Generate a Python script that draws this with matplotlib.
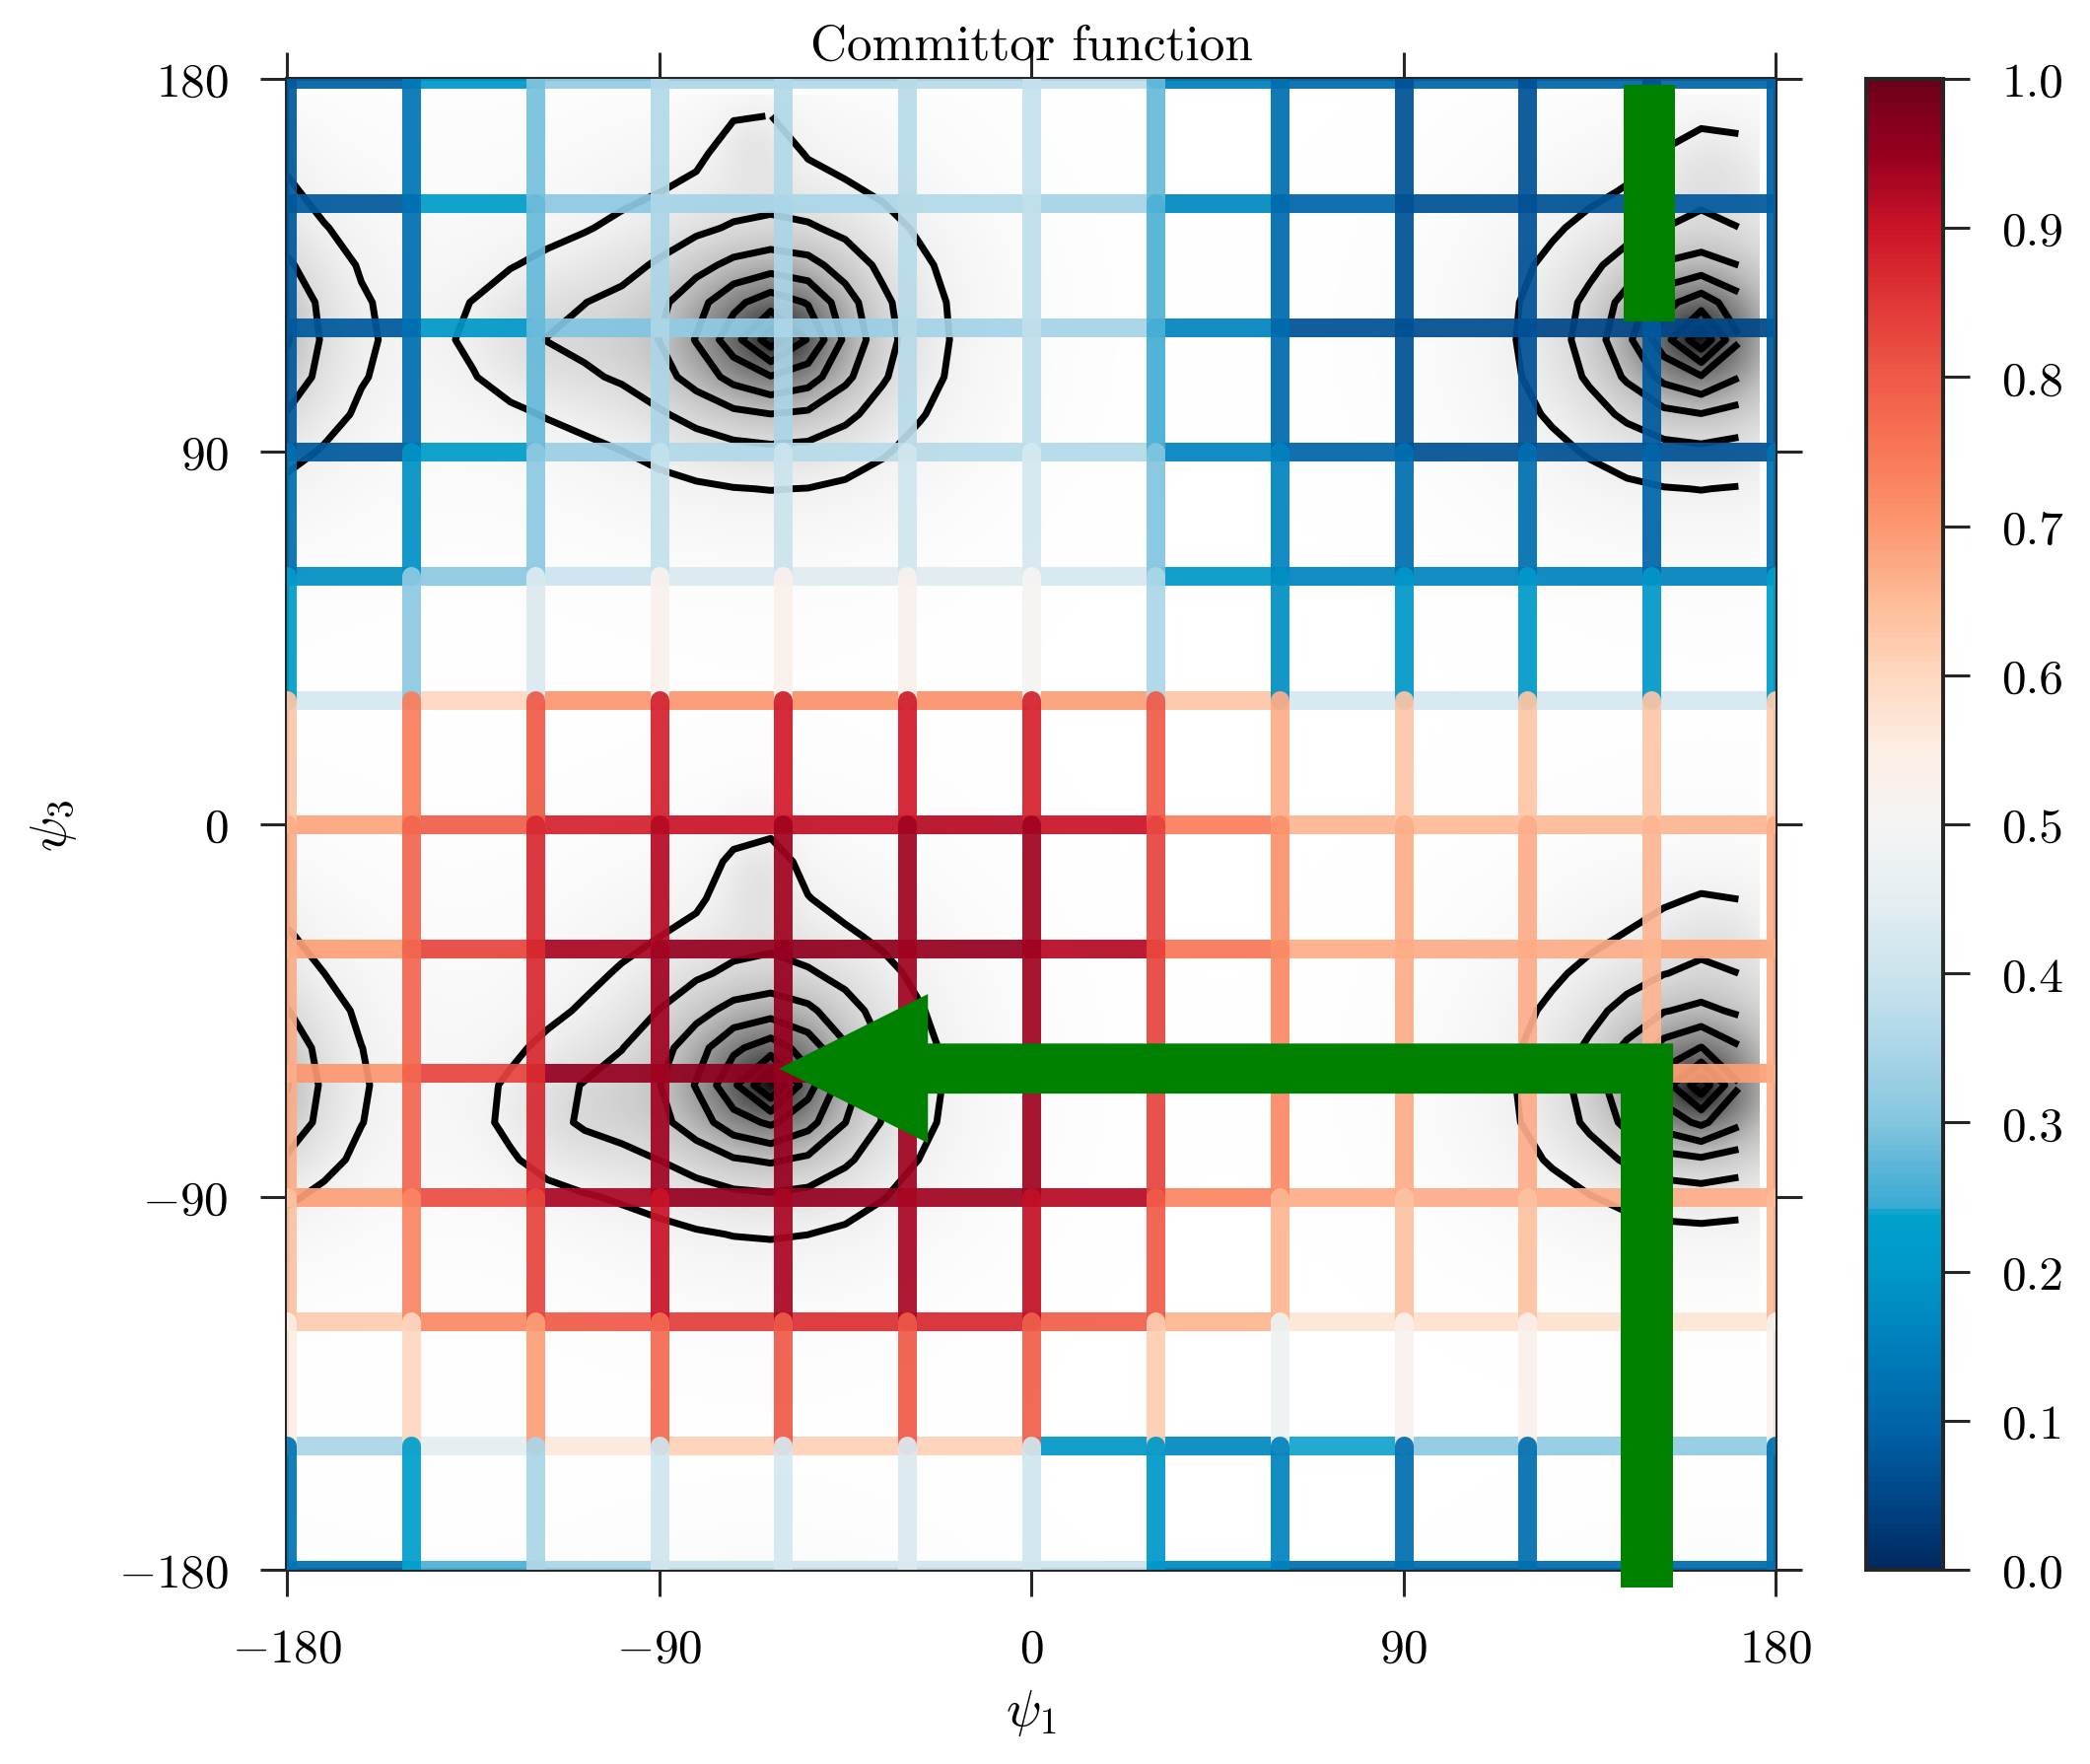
import numpy as np
import matplotlib
matplotlib.use("Agg")
import matplotlib.pyplot as plt
from matplotlib.collections import LineCollection
from matplotlib.colors import LinearSegmentedColormap, Normalize
from matplotlib.patches import Rectangle
import matplotlib.cm as cm

plt.rcParams['font.family'] = 'serif'
plt.rcParams['font.serif'] = ['cmr10']
plt.rcParams['mathtext.fontset'] = 'cm'
plt.rcParams['axes.formatter.use_mathtext'] = True

# grid nodes (degrees)
psi1_nodes = [-180, -150, -120, -90, -60, -30, 0, 30, 60, 90, 120, 150, 180]
psi3_rows = [180, 150, 120, 90, 60, 30, 0, -30, -60, -90, -120, -150, -180]

# committor on horizontal edges, one row per psi3 (top to bottom), 12 edges along psi1
q_horiz = [
    [0.09, 0.20, 0.32, 0.35, 0.36, 0.37, 0.38, 0.15, 0.11, 0.10, 0.10, 0.10],
    [0.08, 0.22, 0.31, 0.34, 0.35, 0.36, 0.34, 0.17, 0.10, 0.07, 0.07, 0.08],
    [0.08, 0.20, 0.30, 0.32, 0.33, 0.34, 0.34, 0.16, 0.07, 0.06, 0.05, 0.05],
    [0.08, 0.22, 0.33, 0.36, 0.37, 0.37, 0.36, 0.16, 0.10, 0.07, 0.07, 0.07],
    [0.18, 0.31, 0.40, 0.43, 0.44, 0.44, 0.42, 0.20, 0.16, 0.16, 0.16, 0.16],
    [0.42, 0.60, 0.70, 0.70, 0.71, 0.71, 0.69, 0.63, 0.42, 0.42, 0.42, 0.42],
    [0.68, 0.79, 0.88, 0.90, 0.91, 0.92, 0.90, 0.74, 0.66, 0.65, 0.65, 0.66],
    [0.69, 0.83, 0.93, 0.95, 0.96, 0.95, 0.92, 0.75, 0.67, 0.67, 0.67, 0.68],
    [0.70, 0.83, 0.95, 0.96, 0.96, 0.95, 0.92, 0.75, 0.67, 0.67, 0.67, 0.69],
    [0.69, 0.82, 0.93, 0.95, 0.95, 0.94, 0.92, 0.73, 0.67, 0.67, 0.67, 0.67],
    [0.62, 0.72, 0.80, 0.84, 0.86, 0.87, 0.79, 0.66, 0.57, 0.58, 0.58, 0.57],
    [0.35, 0.45, 0.56, 0.61, 0.61, 0.61, 0.20, 0.17, 0.24, 0.31, 0.32, 0.32],
    [0.12, 0.26, 0.35, 0.40, 0.41, 0.41, 0.40, 0.17, 0.12, 0.11, 0.11, 0.11],
]

# committor on vertical edges, one row per psi3 interval (top to bottom), 13 edges along psi1
q_vert = [
    [0.08, 0.13, 0.29, 0.36, 0.36, 0.37, 0.39, 0.28, 0.12, 0.07, 0.07, 0.07, 0.09],
    [0.08, 0.12, 0.28, 0.35, 0.35, 0.37, 0.38, 0.26, 0.11, 0.07, 0.07, 0.07, 0.09],
    [0.08, 0.12, 0.28, 0.35, 0.35, 0.37, 0.38, 0.25, 0.11, 0.07, 0.07, 0.08, 0.08],
    [0.12, 0.19, 0.31, 0.39, 0.40, 0.41, 0.42, 0.30, 0.16, 0.12, 0.12, 0.10, 0.12],
    [0.22, 0.31, 0.43, 0.52, 0.53, 0.52, 0.50, 0.35, 0.18, 0.20, 0.21, 0.20, 0.23],
    [0.63, 0.74, 0.80, 0.88, 0.89, 0.89, 0.88, 0.80, 0.67, 0.63, 0.63, 0.63, 0.62],
    [0.67, 0.78, 0.87, 0.92, 0.94, 0.94, 0.94, 0.83, 0.71, 0.67, 0.67, 0.66, 0.67],
    [0.67, 0.78, 0.87, 0.94, 0.95, 0.94, 0.94, 0.83, 0.72, 0.67, 0.67, 0.66, 0.67],
    [0.67, 0.78, 0.87, 0.94, 0.95, 0.94, 0.94, 0.83, 0.72, 0.67, 0.67, 0.66, 0.67],
    [0.64, 0.73, 0.83, 0.90, 0.93, 0.93, 0.91, 0.80, 0.66, 0.64, 0.64, 0.64, 0.65],
    [0.55, 0.60, 0.69, 0.77, 0.80, 0.80, 0.79, 0.62, 0.48, 0.52, 0.53, 0.52, 0.52],
    [0.13, 0.23, 0.35, 0.41, 0.42, 0.43, 0.41, 0.20, 0.16, 0.12, 0.12, 0.12, 0.12],
]

# population basins behind the grid: centre and widths towards each side
basin_psi1 = [-61, -63, 162, 162]
basin_psi3 = [117.7, -63, 118, -64.5]
basin_left = [28, 25, 23, 23]
basin_right = [21, 21, 18.5, 18.5]
basin_down = [19, 19, 19, 16]
basin_up = [21, 22, 19.5, 21]
# small lobes that give the outer contours their pointed tips
lobe_psi1 = [-118, -67, -112, -66, 165, 165]
lobe_psi3 = [118, 165, -70, -12, 160, -25]
lobe_sx = [15, 7, 14, 7, 10, 10]
lobe_sy = [12, 8, 12, 10, 9, 9]
lobe_w = [0.13, 0.10, 0.13, 0.12, 0.10, 0.06]
contour_fracs = [0.125, 0.25, 0.375, 0.5, 0.625, 0.75, 0.875]

tick_vals = [-180, -90, 0, 90, 180]
cbar_ticks = [0.0, 0.1, 0.2, 0.3, 0.4, 0.5, 0.6, 0.7, 0.8, 0.9, 1.0]

cmap_pos = [0.0, 0.05, 0.1, 0.15, 0.2, 0.238, 0.242, 0.27, 0.3, 0.35, 0.4, 0.45,
            0.5, 0.55, 0.6, 0.65, 0.7, 0.75, 0.8, 0.85, 0.9, 0.95, 1.0]
cmap_cols = ['#002a60', '#00488a', '#0066aa', '#0080bc', '#0098c8', '#00a2cc',
             '#38aad2', '#5cb6d8', '#84c6e0', '#acd6e8', '#cce4ee', '#e4eef2',
             '#f6f4f4', '#fdeee4', '#fed8c0', '#fdbc98', '#fc9870', '#f87858',
             '#f05a48', '#e03838', '#cc1428', '#980020', '#6c0018']
cmap = LinearSegmentedColormap.from_list('committor', list(zip(cmap_pos, cmap_cols)))
norm = Normalize(0, 1)


def wrap(d):
    return (d + 180) % 360 - 180


def density(X, Y):
    D = np.zeros_like(X, dtype=float)
    for k in range(len(basin_psi1)):
        dx = wrap(X - basin_psi1[k])
        dy = wrap(Y - basin_psi3[k])
        sx = np.where(dx < 0, basin_left[k], basin_right[k])
        sy = np.where(dy < 0, basin_down[k], basin_up[k])
        r = np.sqrt((dx / sx) ** 2 + (dy / sy) ** 2)
        D += np.exp(-r ** 1.1)
    for k in range(len(lobe_psi1)):
        dx = wrap(X - lobe_psi1[k])
        dy = wrap(Y - lobe_psi3[k])
        D += lobe_w[k] * np.exp(-0.5 * ((dx / lobe_sx[k]) ** 2 + (dy / lobe_sy[k]) ** 2))
    return D


fig = plt.figure(figsize=(21.2, 17.9), dpi=100)
ax = fig.add_axes([0.1373, 0.1101, 0.7123, 0.8447])

# background density (fine) and contours (coarse grid that stops short of +180)
xf = np.linspace(-180, 176, 360)
Xf, Yf = np.meshgrid(xf, xf)
ax.imshow(density(Xf, Yf), extent=[-180, 176, -180, 176], origin='lower',
          cmap='Greys', vmin=0, vmax=1.05, aspect='auto', interpolation='bilinear', zorder=0)
xc = np.arange(-180, 172, 9)
Xc, Yc = np.meshgrid(xc, xc)
ax.contour(xc, xc, density(Xc, Yc), levels=contour_fracs, colors='k', linewidths=5, zorder=1)

# committor grid
segs, vals = [], []
for r, y in enumerate(psi3_rows):
    for c in range(len(psi1_nodes) - 1):
        segs.append([(psi1_nodes[c], y), (psi1_nodes[c + 1], y)])
        vals.append(q_horiz[r][c])
for r in range(len(psi3_rows) - 1):
    for c, x in enumerate(psi1_nodes):
        segs.append([(x, psi3_rows[r]), (x, psi3_rows[r + 1])])
        vals.append(q_vert[r][c])
lc = LineCollection(segs, array=np.array(vals), cmap=cmap, norm=norm, linewidths=13.7,
                    alpha=0.93, capstyle='round', zorder=3)
ax.add_collection(lc)

# green arrows
ax.add_patch(Rectangle((143.3, 121.3), 12.4, 57.2, color='green', lw=0, zorder=5))
ax.add_patch(Rectangle((142.6, -184.3), 12.6, 184.3 - 53, color='green', lw=0,
                       zorder=5, clip_on=False))
ax.arrow(155.2, -59, -216.2, 0, width=12.1, head_width=36, head_length=36,
         length_includes_head=True, color='green', lw=0, zorder=5)

ax.set_xlim(-180, 180)
ax.set_ylim(-180, 180)
ax.set_xticks(tick_vals)
ax.set_yticks(tick_vals)
ax.tick_params(direction='out', length=19.5, width=2.2, labelsize=35.5, pad=23,
               top=True, right=True, color='#262626')
for s in ax.spines.values():
    s.set_linewidth(2.9)
    s.set_color('#262626')

ax.set_title('Committor function', fontsize=37, pad=14.5)
ax.set_xlabel(r'$\psi_1$', fontsize=38)
ax.set_ylabel(r'$\psi_3$', fontsize=38)
ax.xaxis.set_label_coords(0.5, -0.079)
ax.yaxis.set_label_coords(-0.140, 0.5)

cax = fig.add_axes([0.893, 0.1101, 0.0368, 0.8447])
sm = cm.ScalarMappable(norm=norm, cmap=cmap)
cb = fig.colorbar(sm, cax=cax, ticks=cbar_ticks, format='%.1f')
cb.ax.tick_params(direction='out', length=19.5, width=2.2, labelsize=35.5, pad=23,
                  color='#262626')
cb.outline.set_linewidth(2.9)
cb.outline.set_edgecolor('#262626')

fig.savefig('out.png', dpi=100)
